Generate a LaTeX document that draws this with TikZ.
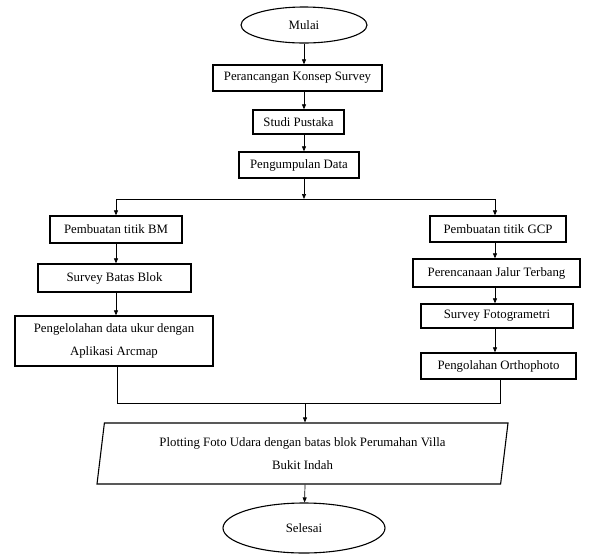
\documentclass[tikz,border=0pt]{standalone}
\usepackage{fontspec}
\setmainfont{Liberation Serif}
\usetikzlibrary{calc, positioning, arrows.meta, shapes.geometric}

\begin{document}
\begin{tikzpicture}[
        x=1pt, y=-1pt,
        font=\fontsize{12.8}{23}\selectfont,
        >={Triangle[length=5pt, width=4pt]},
        box/.style={
            draw=black,
            line width=1.3pt,
            align=center,
            inner sep=1pt
        },
        terminal/.style={
            draw=black,
            ellipse,
            line width=1.1pt,
            inner sep=0pt
        },
        io/.style={
            draw=black,
            trapezium,
            trapezium left angle=77,
            trapezium right angle=103,
            trapezium stretches body,
            line width=1.1pt,
            align=center,
            inner sep=0pt
        },
        arrow/.style={->, line width=0.7pt},
        line/.style={line width=0.7pt}
    ]

    \useasboundingbox (0,0) rectangle (589,558);

    % Main line
    \node[terminal, minimum width=126, minimum height=36] (mulai) at (304,25) {Mulai};

    \node[box, minimum width=169, minimum height=26] (konsep) at (297.5,78) {Perancangan Konsep Survey};

    \node[box, minimum width=91, minimum height=24] (pustaka) at (298.5,122) {Studi Pustaka};

    \node[box, minimum width=120, minimum height=26] (data) at (299,165) {Pengumpulan Data};

    % Split
    \coordinate (split) at (304,199);
    \coordinate (kiri) at (116,199);
    \coordinate (kanan) at (495,199);

    % Left branch
    \node[box, minimum width=132, minimum height=27] (bm) at (116,229.5) {Pembuatan titik BM};

    \node[box, minimum width=153, minimum height=28] (blok) at (114.5,278) {Survey Batas Blok};

    \node[box, minimum width=198, minimum height=50] (arcmap) at (114,341) {
        Pengelolahan data ukur dengan\\
        Aplikasi Arcmap
    };

    % Right branch
    \node[box, minimum width=136, minimum height=26] (gcp) at (498,229) {Pembuatan titik GCP};

    \node[box, minimum width=167, minimum height=28] (jalur) at (496.5,273) {Perencanaan Jalur Terbang};

    \node[box, minimum width=152, minimum height=24] (foto) at (497,316) {Survey Fotogrametri};

    \node[box, minimum width=155, minimum height=26] (ortho) at (498.5,366) {Pengolahan Orthophoto};

    % Merge
    \coordinate (gabung) at (305,403);
    \coordinate (gkiri) at (117,403);
    \coordinate (gkanan) at (500,403);

    \node[io, minimum width=411, minimum height=61] (plot) at (302.5,453.5) {
        Plotting Foto Udara dengan batas blok Perumahan Villa\\
        Bukit Indah
    };

    \node[terminal, minimum width=162, minimum height=50] (selesai) at (304,528) {Selesai};

    % Arrows
    \draw[arrow] (mulai) -- (mulai |- konsep.north);
    \draw[arrow] (mulai |- konsep.south) -- (mulai |- pustaka.north);
    \draw[arrow] (mulai |- pustaka.south) -- (mulai |- data.north);
    \draw[arrow] (mulai |- data.south) -- (split);

    \draw[line] (kiri) -- (kanan);
    \draw[arrow] (kiri) -- (kiri |- bm.north);
    \draw[arrow] (kanan) -- (kanan |- gcp.north);

    \draw[arrow] (kiri |- bm.south) -- (kiri |- blok.north);
    \draw[arrow] (kiri |- blok.south) -- (kiri |- arcmap.north);

    \draw[arrow] (kanan |- gcp.south) -- (kanan |- jalur.north);
    \draw[arrow] (kanan |- jalur.south) -- (kanan |- foto.north);
    \draw[arrow] (kanan |- foto.south) -- (kanan |- ortho.north);

    \draw[line] (gkiri |- arcmap.south) -- (gkiri) -- (gkanan) -- (gkanan |- ortho.south);

    \draw[arrow] (gabung) -- (gabung |- plot.north);
    \draw[arrow] (gabung |- plot.south) -- (selesai);

    \end{tikzpicture}
\end{document}
